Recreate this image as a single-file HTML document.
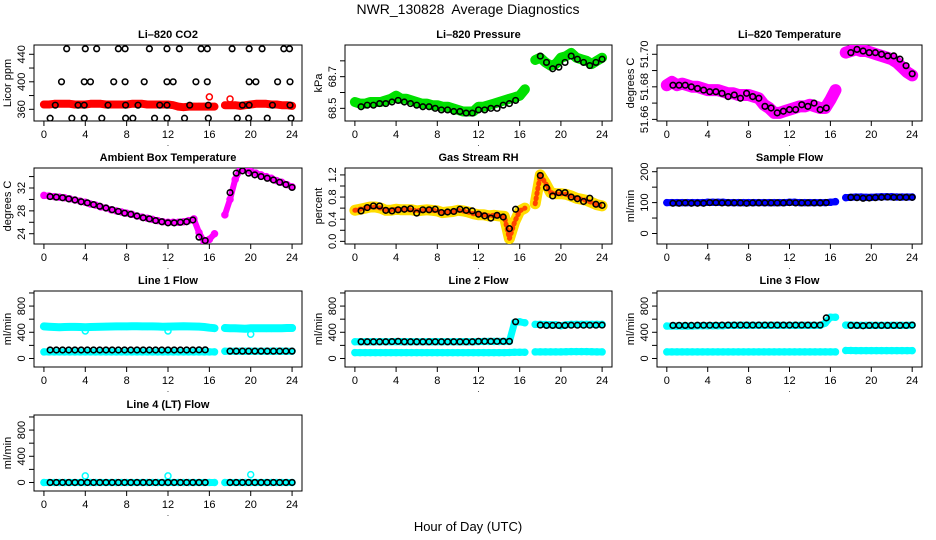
<!DOCTYPE html>
<html><head><meta charset="utf-8"><style>
html,body{margin:0;padding:0;background:#fff}
svg{display:block;font-family:"Liberation Sans",sans-serif}
</style></head><body>
<svg id="chart" width="936" height="540" viewBox="0 0 936 540" xmlns="http://www.w3.org/2000/svg">
<rect width="936" height="540" fill="#fff"/>
<text x="468" y="14" font-size="14" text-anchor="middle" xml:space="preserve" style="white-space:pre">NWR_130828  Average Diagnostics</text>
<text x="468" y="531" font-size="13" text-anchor="middle">Hour of Day (UTC)</text>
</svg>
<script>
// ---- data ----
const hoursA=[0,0.5,1,1.5,2,2.5,3,3.5,4,4.5,5,5.5,6,6.5,7,7.5,8,8.5,9,9.5,10,10.5,11,11.5,12,12.5,13,13.5,14,14.5,15,15.5,16,16.5];
const hoursB=[17.5,18,18.5,19,19.5,20,20.5,21,21.5,22,22.5,23,23.5,24];
const blackHoursA=[0.6,1.2,1.8,2.4,3.0,3.6,4.2,4.8,5.4,6.0,6.6,7.2,7.8,8.4,9.0,9.6,10.2,10.8,11.4,12.0,12.6,13.2,13.8,14.4,15.0,15.6];
const blackHoursB=[18.0,18.6,19.2,19.8,20.4,21.0,21.6,22.2,22.8,23.4,24.0];
const xTicks=[0,4,8,12,16,20,24];

// CO2
const co2A=[367,367,368,368,368,368,367,367,367,368,368,368,367,367,367,367,367,368,368,368,367,367,367,367,367,366,364,363,364,364,364,364,364,364];
const co2B=[366,366,366,365,366,367,368,368,368,367,367,366,366,365];
const co2BlackHours=[2.2,4.0,5.1,7.2,7.85,10.2,11.9,13.1,15.2,15.8,18.2,19.85,21.1,23.2,23.75,1.7,3.9,4.5,6.75,7.85,9.7,11.9,12.5,14.7,15.8,19.85,20.5,22.6,23.8,1.1,3.3,3.9,6.2,7.9,9.1,11.2,11.9,14.1,15.9,19.2,19.85,22.1,23.8,0.6,2.7,3.9,5.6,7.9,8.6,10.7,11.9,13.6,15.9,18.7,19.8,21.6,23.9];
const co2BlackValues=[448,448,448,448,448,448,448,448,448,448,448,448,448,448,448,400,400,400,400,400,400,400,400,400,400,400,400,400,400,366,366,366,366,366,366,366,366,366,366,366,366,366,366,347,347,347,347,347,347,347,347,347,347,347,347,347,347];
const co2OutHours=[16,18];
const co2OutValues=[378,375];

// Pressure
const presA=[68.54,68.53,68.53,68.54,68.54,68.54,68.55,68.56,68.58,68.56,68.56,68.55,68.54,68.53,68.53,68.52,68.52,68.51,68.51,68.50,68.49,68.48,68.48,68.48,68.51,68.51,68.52,68.53,68.54,68.55,68.56,68.57,68.58,68.62];
const presB=[68.805,68.82,68.79,68.77,68.78,68.82,68.83,68.85,68.82,68.81,68.80,68.78,68.80,68.82];
const presBlackA=[68.51,68.52,68.52,68.53,68.53,68.54,68.55,68.54,68.53,68.52,68.51,68.51,68.50,68.49,68.49,68.48,68.48,68.47,68.47,68.49,68.49,68.50,68.50,68.52,68.53,68.55];
const presBlackB=[68.83,68.79,68.75,68.76,68.79,68.83,68.81,68.79,68.77,68.79,68.81];

// Li-820 Temperature
const tempA=[51.681,51.683,51.681,51.682,51.681,51.680,51.680,51.679,51.678,51.678,51.678,51.677,51.676,51.676,51.675,51.675,51.675,51.674,51.673,51.669,51.667,51.664,51.664,51.665,51.666,51.667,51.668,51.668,51.669,51.668,51.667,51.667,51.672,51.678];
const tempB=[51.701,51.702,51.703,51.702,51.702,51.701,51.700,51.699,51.698,51.697,51.695,51.692,51.689,51.687];
const tempBlackA=[51.681,51.681,51.681,51.680,51.679,51.678,51.677,51.677,51.676,51.674,51.675,51.673,51.676,51.674,51.673,51.668,51.667,51.664,51.665,51.666,51.666,51.669,51.668,51.670,51.666,51.667];
const tempBlackB=[51.701,51.703,51.702,51.701,51.701,51.700,51.699,51.699,51.697,51.693,51.688];

// Ambient
const ambA=[30.7,30.6,30.5,30.4,30.3,30.1,29.9,29.7,29.5,29.2,29.0,28.7,28.5,28.2,28.0,27.8,27.6,27.4,27.1,26.9,26.7,26.5,26.3,26.1,26.0,26.0,26.0,26.1,26.3,26.6,24.2,22.6,23.0,24.0];
const ambB=[27.3,30.0,33.5,35.3,35.2,34.9,34.6,34.3,34.0,33.7,33.3,33.0,32.6,32.2];
const ambBlackA=[30.5,30.4,30.3,30.1,29.9,29.6,29.4,29.1,28.8,28.5,28.2,27.9,27.6,27.4,27.1,26.8,26.6,26.3,26.1,25.9,25.9,26.0,26.1,26.4,23.4,22.8];
const ambBlackB=[31.2,34.6,35.0,34.6,34.3,34.0,33.7,33.4,33.0,32.6,32.1];

// RH
const rhA=[0.56,0.58,0.60,0.62,0.62,0.60,0.56,0.56,0.58,0.57,0.57,0.57,0.55,0.56,0.57,0.56,0.55,0.52,0.53,0.54,0.56,0.55,0.53,0.50,0.48,0.48,0.46,0.47,0.46,0.45,0.05,0.35,0.55,0.60];
const rhB=[0.68,1.20,1.05,0.88,0.86,0.86,0.85,0.82,0.78,0.76,0.74,0.70,0.66,0.64];
const rhBlackA=[0.55,0.61,0.64,0.64,0.56,0.55,0.57,0.58,0.59,0.51,0.57,0.57,0.58,0.52,0.53,0.54,0.58,0.56,0.55,0.49,0.46,0.42,0.47,0.44,0.23,0.58];
const rhBlackB=[1.19,0.97,0.82,0.88,0.88,0.80,0.77,0.72,0.78,0.67,0.65];

// Sample flow
const sfA=[100,100,100,100,100,100,100,100,101,101,101,101,100,100,100,100,100,100,100,100,100,100,100,100,101,101,100,100,100,100,100,100,101,103];
const sfB=[116,117,118,118,117,117,118,119,119,119,118,118,118,118];
const sfBlackA=[98,98,99,98,98,98,100,100,99,99,99,99,98,99,99,99,99,99,99,100,99,99,99,99,99,100];
const sfBlackB=[117,116,114,115,116,117,118,117,117,117,117];

// Line 1
const l1UpA=[490,485,480,478,480,482,482,480,476,480,482,485,486,488,490,490,490,492,492,490,490,490,488,485,486,488,490,492,490,488,486,480,470,462];
const l1UpB=[465,462,460,458,455,460,462,462,460,460,462,462,465,465];
const l1LowA=[100,100,100,100,100,100,100,100,100,100,100,100,100,100,100,100,100,100,100,100,100,100,100,100,100,100,100,100,100,100,100,100,100,100];
const l1LowB=[110,110,110,110,110,110,110,110,110,110,110,110,110,110];
const l1BlackA=[130,130,130,130,130,130,130,130,130,130,130,130,130,130,130,130,130,130,130,130,130,130,130,130,132,132];
const l1BlackB=[112,112,112,112,112,112,112,112,112,112,112];
const l1OutHours=[4,12,20];
const l1OutValues=[420,420,370];

// Line 2
const l2UpA=[255,255,255,255,255,255,255,255,258,255,255,255,255,255,255,255,258,255,255,255,255,255,255,255,258,260,260,260,260,260,260,550,560,545];
const l2UpB=[520,520,518,515,515,500,515,520,520,520,520,520,520,520];
const l2LowA=[90,90,90,90,90,90,90,90,90,90,90,90,90,90,90,90,90,90,90,90,90,90,90,90,90,90,90,90,90,90,92,95,95,95];
const l2LowB=[100,100,100,100,100,100,102,105,105,105,105,102,100,100];
const l2BlackA=[255,255,255,255,255,258,262,255,255,255,255,255,255,255,255,255,255,255,255,262,262,262,262,262,262,560];
const l2BlackB=[510,505,505,505,505,508,508,508,508,508,510];

// Line 3
const l3UpA=[495,495,495,495,495,495,500,500,500,500,500,500,505,505,505,505,505,505,505,505,505,505,505,505,505,505,505,505,505,505,505,540,630,630];
const l3UpB=[510,510,505,505,505,505,505,505,505,505,505,505,505,510];
const l3LowA=[100,100,100,100,100,100,100,100,100,100,100,100,100,100,100,100,100,100,100,100,100,100,100,100,100,100,100,100,100,100,100,100,100,100];
const l3LowB=[122,122,120,120,120,120,120,120,120,120,120,120,120,120];
const l3BlackA=[505,505,505,505,508,508,508,508,510,510,510,510,510,510,510,510,510,510,510,510,510,510,510,510,510,620];
const l3BlackB=[505,505,500,505,505,505,505,505,505,505,510];

// Line 4
const l4A=[0,0,0,0,0,0,0,0,0,0,0,0,0,0,0,0,0,0,0,0,0,0,0,0,0,0,0,0,0,0,0,0,0,0];
const l4B=[0,0,0,0,0,0,0,0,0,0,0,0,0,0];
const l4BlackA=[0,0,0,0,0,0,0,0,0,0,0,0,0,0,0,0,0,0,0,0,0,0,0,0,0,0];
const l4BlackB=[0,0,0,0,0,0,0,0,0,0,0];
const l4OutHours=[4,12,20];
const l4OutValues=[100,100,120];

// ---- layout ----
const NS="http://www.w3.org/2000/svg";
const svg=document.getElementById('chart');
const colL=[34,345,657], colR=[302,612,922];
const rowT=[45,168,291,415], PH=76;
const XMIN=-0.96, XMAX=24.96;
function mk(tag,attrs,parent){const e=document.createElementNS(NS,tag);for(const k in attrs)e.setAttribute(k,attrs[k]);(parent||svg).appendChild(e);return e;}

function panel(name,col,row,ylim,ticks,labels,ylab,title){
  const L=colL[col],R=colR[col],T=rowT[row],B=T+PH;
  const g=mk('g',{});
  
  
  const xs=h=>L+(h-XMIN)/(XMAX-XMIN)*(R-L);
  const ys=v=>B-(v-ylim[0])/(ylim[1]-ylim[0])*PH;
  const t=mk('text',{x:(L+R)/2,y:T-7,'font-size':11,'font-weight':'bold','text-anchor':'middle'},g);
  t.textContent=title;
  
  
  const box=mk('rect',{x:L,y:T,width:R-L,height:PH,fill:'none',stroke:'#000','stroke-width':1},g);
  
  
  const xa=mk('g',{},g);
  
  
  for(const h of xTicks){
    const x=xs(h);
    mk('line',{x1:x,x2:x,y1:B,y2:B+5,stroke:'#000'},xa);
    const tl=mk('text',{x:x,y:B+17,'font-size':11,'text-anchor':'middle'},xa);
    tl.textContent=h;
  }
  const dot=mk('text',{x:(L+R)/2,y:B+25,'font-size':8,'text-anchor':'middle'},g);
  dot.textContent='.';
  const ya=mk('g',{},g);
  
  
  ticks.forEach((v,i)=>{
    const y=ys(v);
    mk('line',{x1:L-5,x2:L,y1:y,y2:y,stroke:'#000'},ya);
    if(labels[i]!==''){
      const tl=mk('text',{x:0,y:0,'font-size':11,'text-anchor':'middle',transform:`translate(${L-9},${y}) rotate(-90)`},ya);
      tl.textContent=labels[i];
    }
  });
  const yl=mk('text',{x:0,y:0,'font-size':11,'text-anchor':'middle',transform:`translate(${L-23},${(T+B)/2}) rotate(-90)`},g);
  yl.textContent=ylab;
  
  
  const clip='clip-'+name;
  const cp=mk('clipPath',{id:clip},g);
  mk('rect',{x:L,y:T,width:R-L,height:PH},cp);
  const dg=mk('g',{'clip-path':`url(#${clip})`},g);
  
  
  return {g:dg,xs,ys,name};
}
function swath(p,hours,vals,color,w,label){
  const pts=hours.map((h,i)=>p.xs(h).toFixed(1)+','+p.ys(vals[i]).toFixed(1)).join(' ');
  const pl=mk('polyline',{points:pts,fill:'none',stroke:color,'stroke-width':w,'stroke-linecap':'round','stroke-linejoin':'round'},p.g);
  
  
  return pl;
}
function circles(p,hours,vals,color,r,sw,label){
  const cg=mk('g',{},p.g);
  
  
  hours.forEach((h,i)=>{
    mk('circle',{cx:p.xs(h),cy:p.ys(vals[i]),r:r,fill:'none',stroke:color,'stroke-width':sw},cg);
  });
}
function series(p,a,b,color,w,label){
  swath(p,hoursA,a,color,w,label+'-a');swath(p,hoursB,b,color,w,label+'-b');
  circles(p,hoursA,a,color,3,1.5,label+'-pts-a');circles(p,hoursB,b,color,3,1.5,label+'-pts-b');
}
function blacks(p,a,b){
  circles(p,blackHoursA,a,'#000',2.8,1.6,'hourly-mean-a');
  circles(p,blackHoursB,b,'#000',2.8,1.6,'hourly-mean-b');
}

// CO2
let p=panel('co2',0,0,[343,453.5],[360,380,400,420,440],['360','','400','','440'],'Licor ppm','Li\u2013820 CO2');
series(p,co2A,co2B,'#ff0000',8,'co2-series');
circles(p,co2OutHours,co2OutValues,'#ff0000',3,1.5,'co2-outliers');
circles(p,co2BlackHours,co2BlackValues,'#000',2.8,1.6,'co2-hourly-mean');

// Pressure
p=panel('pressure',1,0,[68.42,68.90],[68.5,68.6,68.7,68.8],['68.5','','68.7',''],'kPa','Li\u2013820 Pressure');
series(p,presA,presB,'#00e000',10,'pressure-series');
blacks(p,presBlackA,presBlackB);

// Temperature
p=panel('li820-temp',2,0,[51.659,51.7057],[51.66,51.67,51.68,51.69,51.70],['51.66','','51.68','','51.70'],'degrees C','Li\u2013820 Temperature');
series(p,tempA,tempB,'#ff00ff',12,'temp-series');
blacks(p,tempBlackA,tempBlackB);

// Ambient
p=panel('ambient',0,1,[22.2,35.5],[24,26,28,30,32,34],['24','','28','','32',''],'degrees C','Ambient Box Temperature');
series(p,ambA,ambB,'#ff00ff',6,'ambient-series');
blacks(p,ambBlackA,ambBlackB);

// RH
p=panel('rh',1,1,[-0.048,1.325],[0,0.2,0.4,0.6,0.8,1.0,1.2],['0.0','','0.4','','0.8','','1.2'],'percent','Gas Stream RH');
series(p,rhA,rhB,'#ffdd00',11,'rh-series');
swath(p,hoursA,rhA,'#ff4400',5,'rh-core-a').setAttribute('stroke-dasharray','1 4');
swath(p,hoursB,rhB,'#ff4400',5,'rh-core-b').setAttribute('stroke-dasharray','1 4');
blacks(p,rhBlackA,rhBlackB);

// Sample flow
p=panel('sample-flow',2,1,[-34,212],[0,50,100,150,200],['0','','100','','200'],'ml/min','Sample Flow');
series(p,sfA,sfB,'#0000ff',7,'sample-series');
blacks(p,sfBlackA,sfBlackB);

const flowTicks=[0,200,400,600,800,1000], flowLabels=['0','','400','','800',''], flowLim=[-130,1030];
// Line 1
p=panel('line1',0,2,flowLim,flowTicks,flowLabels,'ml/min','Line 1 Flow');
series(p,l1UpA,l1UpB,'#00ffff',8,'line1-upper');
series(p,l1LowA,l1LowB,'#00ffff',7,'line1-lower');
circles(p,l1OutHours,l1OutValues,'#00ffff',3,1.5,'line1-outliers');
blacks(p,l1BlackA,l1BlackB);
// Line 2
p=panel('line2',1,2,flowLim,flowTicks,flowLabels,'ml/min','Line 2 Flow');
series(p,l2UpA,l2UpB,'#00ffff',7,'line2-upper');
series(p,l2LowA,l2LowB,'#00ffff',7,'line2-lower');
blacks(p,l2BlackA,l2BlackB);
// Line 3
p=panel('line3',2,2,flowLim,flowTicks,flowLabels,'ml/min','Line 3 Flow');
series(p,l3UpA,l3UpB,'#00ffff',7,'line3-upper');
series(p,l3LowA,l3LowB,'#00ffff',7,'line3-lower');
blacks(p,l3BlackA,l3BlackB);
// Line 4
p=panel('line4',0,3,flowLim,flowTicks,flowLabels,'ml/min','Line 4 (LT) Flow');
series(p,l4A,l4B,'#00ffff',7,'line4-series');
circles(p,l4OutHours,l4OutValues,'#00ffff',3,1.5,'line4-outliers');
blacks(p,l4BlackA,l4BlackB);
</script>
</body></html>
